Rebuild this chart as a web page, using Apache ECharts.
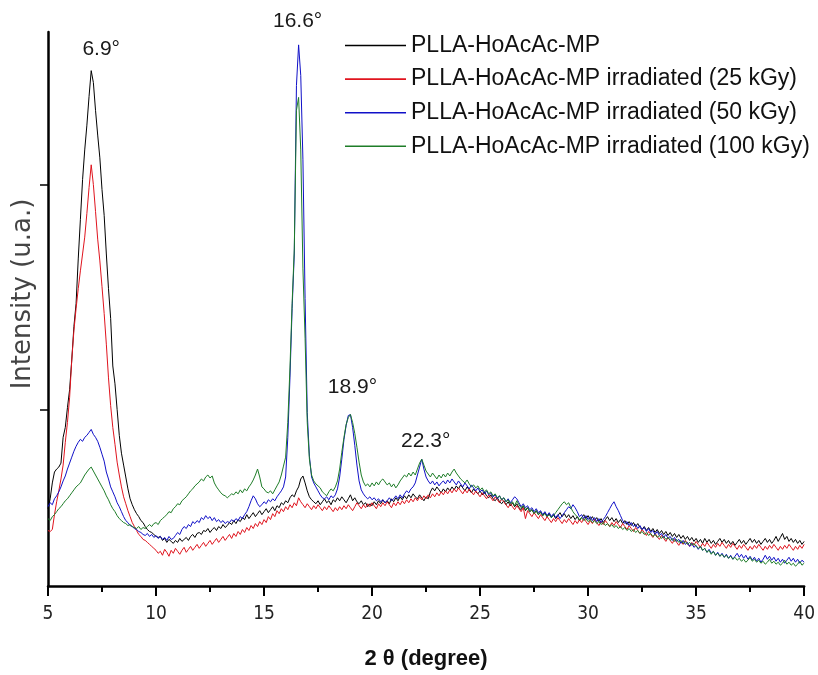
<!DOCTYPE html>
<html>
<head>
<meta charset="utf-8">
<script src="https://cdn.jsdelivr.net/npm/echarts@6/dist/echarts.min.js"></script>
<style>html,body{margin:0;padding:0;background:#fff;}#c{width:818px;height:675px;}</style>
</head>
<body>
<div id="c"></div>
<script>
// 2-theta sampling grid (degree)
const theta = [
5,5.1,5.2,5.3,5.4,5.5,5.6,5.7,5.8,5.9,
6,6.1,6.2,6.3,6.4,6.5,6.6,6.7,6.8,6.9,
7,7.1,7.2,7.3,7.4,7.5,7.6,7.7,7.8,7.9,
8,8.1,8.2,8.3,8.4,8.5,8.6,8.7,8.8,8.9,
9,9.1,9.2,9.3,9.4,9.5,9.6,9.7,9.8,9.9,
10,10.1,10.2,10.3,10.4,10.5,10.6,10.7,10.8,10.9,
11,11.1,11.2,11.3,11.4,11.5,11.6,11.7,11.8,11.9,
12,12.1,12.2,12.3,12.4,12.5,12.6,12.7,12.8,12.9,
13,13.1,13.2,13.3,13.4,13.5,13.6,13.7,13.8,13.9,
14,14.1,14.2,14.3,14.4,14.5,14.6,14.7,14.8,14.9,
15,15.1,15.2,15.3,15.4,15.5,15.6,15.7,15.8,15.9,
16,16.1,16.2,16.3,16.4,16.5,16.6,16.7,16.8,16.9,
17,17.1,17.2,17.3,17.4,17.5,17.6,17.7,17.8,17.9,
18,18.1,18.2,18.3,18.4,18.5,18.6,18.7,18.8,18.9,
19,19.1,19.2,19.3,19.4,19.5,19.6,19.7,19.8,19.9,
20,20.1,20.2,20.3,20.4,20.5,20.6,20.7,20.8,20.9,
21,21.1,21.2,21.3,21.4,21.5,21.6,21.7,21.8,21.9,
22,22.1,22.2,22.3,22.4,22.5,22.6,22.7,22.8,22.9,
23,23.1,23.2,23.3,23.4,23.5,23.6,23.7,23.8,23.9,
24,24.1,24.2,24.3,24.4,24.5,24.6,24.7,24.8,24.9,
25,25.1,25.2,25.3,25.4,25.5,25.6,25.7,25.8,25.9,
26,26.1,26.2,26.3,26.4,26.5,26.6,26.7,26.8,26.9,
27,27.1,27.2,27.3,27.4,27.5,27.6,27.7,27.8,27.9,
28,28.1,28.2,28.3,28.4,28.5,28.6,28.7,28.8,28.9,
29,29.1,29.2,29.3,29.4,29.5,29.6,29.7,29.8,29.9,
30,30.1,30.2,30.3,30.4,30.5,30.6,30.7,30.8,30.9,
31,31.1,31.2,31.3,31.4,31.5,31.6,31.7,31.8,31.9,
32,32.1,32.2,32.3,32.4,32.5,32.6,32.7,32.8,32.9,
33,33.1,33.2,33.3,33.4,33.5,33.6,33.7,33.8,33.9,
34,34.1,34.2,34.3,34.4,34.5,34.6,34.7,34.8,34.9,
35,35.1,35.2,35.3,35.4,35.5,35.6,35.7,35.8,35.9,
36,36.1,36.2,36.3,36.4,36.5,36.6,36.7,36.8,36.9,
37,37.1,37.2,37.3,37.4,37.5,37.6,37.7,37.8,37.9,
38,38.1,38.2,38.3,38.4,38.5,38.6,38.7,38.8,38.9,
39,39.1,39.2,39.3,39.4,39.5,39.6,39.7,39.8,39.9,
40];

// Intensities (arbitrary units)
const plla = [
78,88,104,115,118,120,124,150,160,180,
198,228,262,285,330,370,410,440,465,494,
520,508,480,455,432,400,374,335,300,270,
222,204,178,152,134,122,110,98,88,82,
77,73,70,66,64,60,57,55,54,52,
50,49,50,46,48,44,47,45,43,46,
44,48,45,47,49,46,50,52,49,53,
54,52,56,55,58,54,57,59,56,60,
58,62,59,61,64,62,66,63,67,65,
69,67,72,68,71,74,70,73,76,72,
75,78,74,77,80,76,81,79,84,82,
86,84,89,92,90,96,100,108,111,104,
96,90,87,85,83,86,82,85,88,84,
86,82,87,85,89,86,90,87,84,88,
92,86,89,85,83,86,82,84,80,83,
81,85,82,86,83,87,84,86,83,88,
85,89,86,90,87,91,88,92,89,93,
90,88,92,89,86,90,88,95,99,96,
100,97,94,98,95,99,96,100,97,101,
98,102,99,96,100,97,94,98,95,93,
96,92,95,91,89,92,88,86,89,85,
83,86,82,85,81,84,80,83,79,77,
81,76,79,75,77,73,76,72,75,71,
74,70,73,69,72,68,71,74,70,73,
69,72,68,71,67,70,66,69,72,68,
71,67,70,66,69,65,68,64,67,70,
66,69,65,68,64,67,63,66,62,65,
61,64,60,63,59,57,60,56,59,55,
58,54,57,53,56,52,55,51,54,50,
53,49,52,48,51,47,50,46,49,45,
48,44,47,43,48,44,47,43,46,42,
45,48,44,47,43,46,42,45,41,44,
47,43,46,42,45,48,44,47,43,46,
42,45,48,44,47,43,46,50,45,49,
53,47,50,45,48,44,47,43,46,42,
45];

const irr25 = [
56,55,57,72,85,96,108,122,145,165,
190,228,258,280,300,318,335,352,376,402,
425,405,378,350,328,302,275,244,210,182,
160,143,125,112,100,90,83,76,70,64,
60,56,52,50,47,46,44,42,40,38,
36,33,35,31,37,34,30,36,33,38,
35,32,36,39,34,37,40,36,39,42,
38,41,44,40,43,46,42,45,48,44,
47,50,46,49,52,48,53,50,55,52,
57,54,59,56,61,58,63,60,65,62,
67,64,70,67,73,70,76,73,78,75,
80,77,82,79,84,81,89,85,82,79,
83,80,77,81,78,82,79,76,80,77,
81,78,75,79,76,80,77,81,78,82,
79,76,80,84,81,78,82,79,83,80,
84,81,78,83,80,84,81,85,82,79,
84,81,85,82,86,83,87,84,88,85,
89,86,90,87,91,88,92,89,93,90,
94,91,95,92,96,93,97,94,98,95,
99,96,93,97,94,98,95,92,96,93,
90,94,91,88,92,89,86,90,87,84,
88,85,82,79,83,80,77,81,78,75,
79,68,76,73,70,74,71,68,72,69,
66,70,67,64,68,65,69,66,63,67,
64,68,65,62,66,63,67,64,68,65,
62,66,63,67,64,61,65,62,66,63,
60,64,61,65,62,59,63,60,57,61,
58,55,59,56,53,57,54,51,55,52,
49,53,50,47,51,48,45,49,46,43,
47,44,41,45,42,46,43,40,44,41,
45,42,39,43,40,44,41,38,42,39,
43,40,44,41,38,42,39,43,40,37,
41,38,42,39,36,40,37,41,38,42,
39,36,40,37,41,38,42,39,36,40,
37,41,38,42,39,36,40,37,41,38,
42];

const irr50 = [
80,84,82,88,91,95,100,106,111,118,
124,130,136,141,145,148,146,150,152,155,
158,153,150,146,140,133,126,115,108,100,
95,90,84,80,75,70,66,64,61,60,
58,57,55,54,52,51,53,50,52,49,
51,48,50,47,49,46,50,47,48,51,
54,52,57,60,58,62,60,65,63,66,
64,69,67,71,68,70,66,69,65,67,
64,66,63,65,64,67,65,68,66,70,
68,72,75,80,86,91,88,83,80,82,
85,83,87,85,88,86,90,93,96,100,
110,150,210,280,335,505,546,515,430,290,
175,131,110,104,100,96,92,89,88,90,
87,91,89,92,98,110,128,148,162,172,
173,160,142,122,106,97,93,90,88,90,
87,89,86,88,85,87,84,86,89,86,
88,91,88,92,89,93,96,94,98,100,
104,112,120,128,118,110,106,103,106,102,
105,101,104,106,103,107,104,108,105,102,
106,103,100,104,101,98,102,99,96,99,
95,97,93,96,92,94,90,92,88,91,
87,89,85,88,84,87,90,88,84,80,
83,79,81,77,79,75,78,74,76,72,
75,71,74,70,73,69,72,68,71,74,
77,80,78,82,79,75,70,72,68,71,
67,70,66,69,65,68,64,67,70,74,
78,82,85,80,76,71,66,63,65,61,
64,60,62,58,61,57,59,55,58,54,
56,52,55,51,53,49,52,48,50,46,
49,45,47,43,46,42,44,40,43,39,
41,37,40,36,38,34,37,33,35,31,
34,30,33,29,32,28,31,27,30,33,
29,32,28,31,27,30,26,29,25,28,
24,27,31,27,30,26,29,25,28,24,
27,23,26,29,25,28,24,27,23,26,
24];

const irr100 = [
68,66,70,72,75,78,80,83,86,88,
91,94,97,100,102,104,108,112,115,118,
120,116,112,108,104,100,96,91,87,82,
78,75,71,68,66,64,63,61,62,60,
59,58,60,57,59,58,60,62,60,63,
64,62,66,68,70,72,75,74,78,80,
83,82,86,88,90,93,96,98,101,103,
105,108,106,110,112,109,111,104,100,97,
94,92,91,89,91,93,92,95,93,97,
94,98,96,100,103,107,112,118,110,100,
98,95,94,96,93,97,101,105,112,121,
130,165,220,285,340,480,493,440,320,250,
165,128,112,106,103,101,99,95,93,91,
95,98,96,100,106,118,135,150,163,170,
173,165,154,140,125,112,105,101,103,100,
104,101,105,102,106,108,105,102,104,100,
103,99,102,106,109,112,110,114,111,115,
112,118,124,128,122,116,113,110,114,111,
108,112,109,113,110,114,111,115,118,114,
111,108,106,104,107,103,100,102,99,101,
97,99,95,97,93,95,91,93,89,91,
87,89,85,87,83,85,81,86,82,79,
81,77,79,75,77,73,76,72,74,71,
73,70,72,69,71,74,77,80,83,85,
82,84,79,75,72,70,67,69,66,68,
65,67,64,66,63,65,62,64,61,63,
60,62,59,61,58,60,57,59,56,58,
55,57,54,56,53,55,52,54,51,53,
50,52,49,51,48,50,47,49,46,48,
45,47,44,46,43,45,42,44,41,43,
40,38,40,36,38,34,36,32,35,31,
33,30,32,29,31,28,30,27,29,26,
28,25,27,24,26,29,25,27,24,26,
23,25,22,24,27,23,25,22,24,21,
23,26,22,24,21,23,20,22,25,21,
23];

const seriesNames = [
  'PLLA-HoAcAc-MP',
  'PLLA-HoAcAc-MP irradiated (25 kGy)',
  'PLLA-HoAcAc-MP irradiated (50 kGy)',
  'PLLA-HoAcAc-MP irradiated (100 kGy)'
];
const seriesValues = [plla, irr25, irr50, irr100];
const seriesColors = ['#000000', '#e0141e', '#1010c8', '#1e7d28'];

// x-axis range and ticks
const xMin = 5, xMax = 40, xStep = 5;
// y-axis (no labels) and its two tick marks
const yMin = 0, yMax = 559;
const yTicks = [178, 405];

// peak annotations: [text, theta, series index]
const peakLabels = [
  ['6.9°', 7.0, 0],
  ['16.6°', 16.6, 2],
  ['18.9°', 19.0, 2],
  ['22.3°', 22.3, 3]
];
const labelOffsets = [[10, -21], [-1, -24], [2, -27], [4, -18]];

const chart = echarts.init(document.getElementById('c'), null, {renderer: 'canvas'});

const series = seriesNames.map((name, si) => {
  const marks = [];
  peakLabels.forEach((p, k) => {
    if (p[2] !== si) return;
    const idx = theta.indexOf(p[1]);
    marks.push({
      coord: [theta[idx], seriesValues[si][idx]],
      value: p[0],
      label: {offset: labelOffsets[k]}
    });
  });
  return {
    name: name,
    type: 'line',
    data: theta.map((t, i) => [t, seriesValues[si][i]]),
    showSymbol: false,
    symbol: 'none',
    lineStyle: {color: seriesColors[si], width: 1},
    itemStyle: {color: seriesColors[si]},
    silent: true,
    animation: false,
    markPoint: marks.length ? {
      symbol: 'circle',
      symbolSize: 0,
      silent: true,
      animation: false,
      label: {
        show: true,
        position: 'inside',
        formatter: '{c}',
        color: '#1a1a1a',
        fontFamily: 'Liberation Sans, Arial, sans-serif',
        fontSize: 21
      },
      data: marks
    } : undefined
  };
});

const option = {
  backgroundColor: '#ffffff',
  animation: false,
  grid: {left: 48, right: 12, top: 32, bottom: 84, containLabel: false},
  legend: {
    orient: 'vertical',
    left: 345,
    top: 34,
    padding: 0,
    itemWidth: 61,
    itemHeight: 1.6,
    itemGap: 10.6,
    icon: 'rect',
    selectedMode: false,
    textStyle: {
      color: '#111',
      fontFamily: 'Liberation Sans, Arial, sans-serif',
      fontSize: 23
    },
    data: seriesNames
  },
  xAxis: {
    type: 'value',
    min: xMin,
    max: xMax,
    interval: xStep,
    name: '2 θ (degree)',
    nameLocation: 'middle',
    nameGap: 62,
    nameTextStyle: {
      color: '#111',
      fontFamily: 'Liberation Sans, Arial, sans-serif',
      fontWeight: 'bold',
      fontSize: 22
    },
    axisLine: {show: true, onZero: false, lineStyle: {color: '#000', width: 2.5}},
    axisTick: {show: true, inside: false, length: 10, lineStyle: {color: '#000', width: 2}},
    minorTick: {show: true, splitNumber: 2, length: 6, lineStyle: {color: '#000', width: 2}},
    splitLine: {show: false},
    axisLabel: {
      show: true,
      margin: 19,
      color: '#222',
      fontFamily: 'Liberation Sans Narrow, DejaVu Sans Condensed, Arial, sans-serif',
      fontSize: 19
    }
  },
  yAxis: {
    type: 'value',
    min: yMin,
    max: yMax,
    name: 'Intensity (u.a.)',
    nameLocation: 'middle',
    nameGap: 12,
    nameTextStyle: {
      color: '#444',
      fontFamily: 'DejaVu Sans ExtraLight, DejaVu Sans, Arial, sans-serif',
      fontSize: 26,
      padding: [0, 0, 0, 30]
    },
    axisLine: {show: true, onZero: false, lineStyle: {color: '#000', width: 2.5}},
    axisTick: {show: true, inside: false, length: 8, customValues: yTicks, lineStyle: {color: '#000', width: 1.5}},
    axisLabel: {show: false},
    splitLine: {show: false}
  },
  series: series
};

chart.setOption(option);
</script>
</body>
</html>
